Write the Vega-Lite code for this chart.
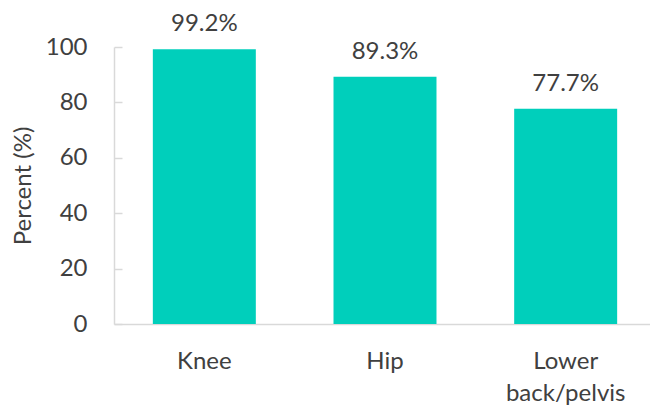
{
  "$schema": "https://vega.github.io/schema/vega-lite/v6.json",
  "autosize": {"type": "none"},
  "width": 542,
  "height": 277,
  "padding": {"left": 114, "top": 47, "right": 0, "bottom": 85},
  "background": "white",
  "config": {
    "view": {"stroke": null},
    "font": "Lato",
    "axis": {"labelFont": "Lato", "titleFont": "Lato", "labelColor": "#404040", "titleColor": "#404040", "labelFontSize": 24, "titleFontSize": 24, "titleFontWeight": "normal", "grid": false}
  },
  "data": {
    "values": [
      {"region": "Knee", "percent": 99.2},
      {"region": "Hip", "percent": 89.3},
      {"region": "Lower back/pelvis", "percent": 77.7}
    ]
  },
  "transform": [
    {"calculate": "format(datum.percent, '.1f') + '%'", "as": "label"}
  ],
  "encoding": {
    "x": {
      "field": "region", "type": "nominal", "sort": null,
      "scale": {"paddingInner": 0.43, "paddingOuter": 0.215},
      "axis": {
        "title": null, "labelAngle": 0, "ticks": false,
        "domainColor": "#d9d9d9", "domainWidth": 1.5,
        "labelPadding": 25, "labelLineHeight": 32,
        "labelExpr": "split(datum.label, ' ')"
      }
    },
    "y": {
      "field": "percent", "type": "quantitative",
      "scale": {"domain": [0, 100], "nice": false},
      "axis": {
        "title": "Percent (%)", "values": [0, 20, 40, 60, 80, 100],
        "domainColor": "#d9d9d9", "domainWidth": 1.5,
        "tickColor": "#d9d9d9", "tickWidth": 1.5, "tickSize": -8,
        "labelPadding": 35, "titlePadding": 10
      }
    }
  },
  "layer": [
    {"mark": {"type": "bar", "color": "#00CFBB"}},
    {
      "mark": {"type": "text", "baseline": "alphabetic", "dy": -18, "fontSize": 24, "color": "#404040", "font": "Lato"},
      "encoding": {"text": {"field": "label", "type": "nominal"}}
    }
  ]
}
